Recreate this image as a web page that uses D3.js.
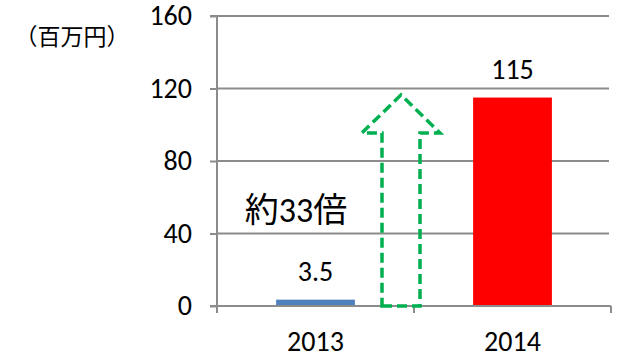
<!DOCTYPE html>
<html><head><meta charset="utf-8">
<script src="https://cdn.jsdelivr.net/npm/d3@7"></script>
<style>body{margin:0;background:#fff}svg{display:block}</style>
</head><body>
<script>
const categories = ["2013", "2014"];
const values = [3.5, 115];
const barColors = ["#4F81BD", "#FF0000"];
const yTicks = [0, 40, 80, 120, 160];
const unitLabel = "（百万円）";
const ratioLabel = "約33倍";
const arrowTip = 116.5, arrowWing = 95.5;

const W = 623, H = 354;
const svg = d3.select("body").append("svg").attr("width", W).attr("height", H);
const font = "Calibri, Carlito, 'Noto Sans CJK JP', 'Liberation Sans', sans-serif";
const pL = 217, pR = 611, pT = 16, pB = 306;
const x = d3.scaleBand().domain(categories).range([pL, pR]).paddingInner(0).paddingOuter(0);
const y = d3.scaleLinear().domain([0, 160]).range([pB, pT]);
const grid = "#8C8C8C";

// gridlines
svg.append("g").selectAll("line").data(yTicks.filter(d => d > 0)).join("line")
  .attr("x1", pL).attr("x2", 609).attr("y1", d => y(d)).attr("y2", d => y(d))
  .attr("stroke", grid).attr("stroke-width", 2);

// y axis
const ya = svg.append("g").attr("transform", `translate(${pL},0)`).call(d3.axisLeft(y).tickValues(yTicks).tickSize(7).tickPadding(18));
ya.select(".domain").attr("stroke", grid).attr("stroke-width", 2).attr("d", `M-7,${pT}H0V${pB}`);
ya.selectAll(".tick line").attr("stroke", grid).attr("stroke-width", 2);
ya.selectAll(".tick text").attr("font-family", font).attr("font-size", 28).attr("fill", "#000");

// bars
svg.append("g").selectAll("rect").data(values).join("rect")
  .attr("x", (d, i) => x(categories[i]) + x.bandwidth() * 0.3)
  .attr("width", x.bandwidth() * 0.4)
  .attr("y", d => y(d)).attr("height", d => y(0) - y(d))
  .attr("fill", (d, i) => barColors[i]);

// x axis
const xa = svg.append("g").attr("transform", `translate(0,${pB})`);
xa.append("line").attr("x1", pL - 7).attr("x2", pR).attr("y1", 0).attr("y2", 0).attr("stroke", grid).attr("stroke-width", 2);
const bounds = [pL, ...categories.map(c => x(c) + x.bandwidth())];
xa.selectAll("line.t").data(bounds).join("line").attr("class", "t")
  .attr("x1", d => d).attr("x2", d => d).attr("y1", 0).attr("y2", 7)
  .attr("stroke", grid).attr("stroke-width", 2);
xa.selectAll("text").data(categories).join("text")
  .attr("x", d => x(d) + x.bandwidth() / 2).attr("y", 45)
  .attr("text-anchor", "middle").attr("font-family", font).attr("font-size", 28).text(d => d);

// value labels
svg.append("g").selectAll("text").data(values).join("text")
  .attr("x", (d, i) => x(categories[i]) + x.bandwidth() / 2)
  .attr("y", d => y(d) - 19)
  .attr("text-anchor", "middle").attr("font-family", font).attr("font-size", 28).text(d => d);

// unit label
svg.append("text").attr("x", 72).attr("y", 45).attr("text-anchor", "middle")
  .attr("font-family", font).attr("font-size", 23).text(unitLabel);

// ratio label
svg.append("text").attr("x", 296).attr("y", 222).attr("text-anchor", "middle")
  .attr("font-family", font).attr("font-size", 34).text(ratioLabel);

// arrow
const cx = x("2014") - 13;
const sw = 19, hw = 39;
const pts = [[cx - sw, y(0)], [cx + sw, y(0)], [cx + sw, y(arrowWing)], [cx + hw, y(arrowWing)],
  [cx, y(arrowTip)], [cx - hw, y(arrowWing)], [cx - sw, y(arrowWing)]];
svg.append("path").attr("d", d3.line()(pts) + "Z").attr("fill", "none")
  .attr("stroke", "#00B050").attr("stroke-width", 3.5).attr("stroke-dasharray", "10,5");
</script>
</body></html>
